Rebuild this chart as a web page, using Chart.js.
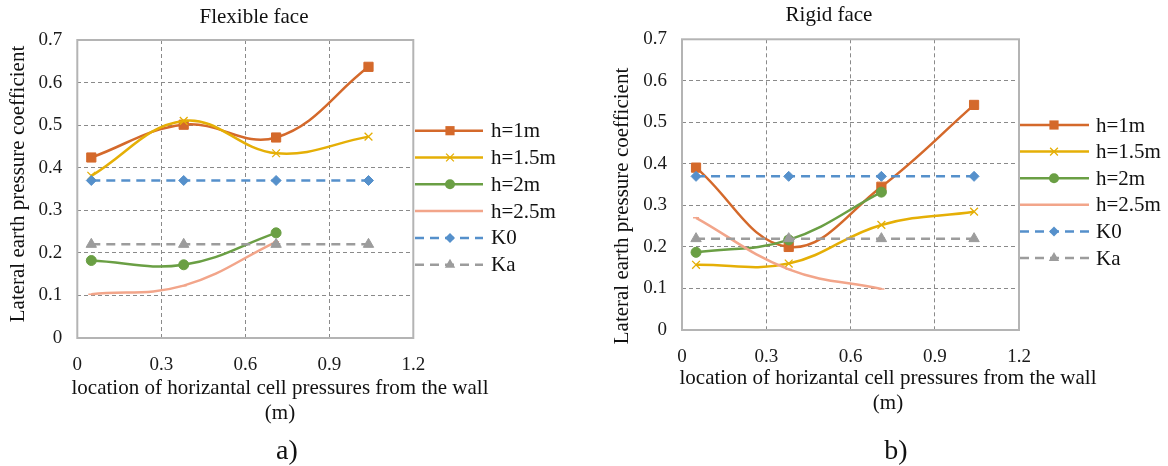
<!DOCTYPE html>
<html>
<head>
<meta charset="utf-8">
<script src="https://cdn.jsdelivr.net/npm/chart.js@4.4.0/dist/chart.umd.min.js"></script>
<style>
  html, body { margin: 0; padding: 0; background: #fff; }
  #wrap { position: relative; width: 1168px; height: 466px; }
  .box { position: absolute; top: 0; height: 466px; }
</style>
</head>
<body>
<div id="wrap">
  <div class="box" style="left:0;width:580px"><canvas id="flexChart" width="580" height="466"></canvas></div>
  <div class="box" style="left:580px;width:588px"><canvas id="rigidChart" width="588" height="466"></canvas></div>
</div>
<script>
// cell positions (m) and tick values
const cellX = [0.05, 0.38, 0.71, 1.04];
const xTicks = [0, 0.3, 0.6, 0.9, 1.2];
const yTicks = [0, 0.1, 0.2, 0.3, 0.4, 0.5, 0.6, 0.7];
const seriesNames = ['h=1m', 'h=1.5m', 'h=2m', 'h=2.5m', 'K0', 'Ka'];

// a) flexible face
const flexH1 = [0.424, 0.501, 0.471, 0.637];
const flexH15 = [0.381, 0.510, 0.434, 0.473];
const flexH2 = [0.182, 0.172, 0.247];
const flexH25 = [0.103, 0.123, 0.226];
const flexK0 = [0.37, 0.37, 0.37, 0.37];
const flexKa = [0.22, 0.22, 0.22, 0.22];

// b) rigid face
const rigidH1 = [0.391, 0.200, 0.345, 0.542];
const rigidH15 = [0.157, 0.160, 0.253, 0.285];
const rigidH2 = [0.187, 0.217, 0.332];
const rigidH25 = [0.270, 0.146, 0.099];
const rigidK0 = [0.37, 0.37, 0.37, 0.37];
const rigidKa = [0.22, 0.22, 0.22, 0.22];

const yTitle = 'Lateral earth pressure coefficient';
const xTitle = ['location of horizantal cell pressures from the wall', '(m)'];

Chart.defaults.font.family = "'Liberation Serif', 'Times New Roman', serif";
Chart.defaults.color = '#1a1a1a';

const styles = [
  { color: '#D4692B', point: 'rect', r: 6.5, pw: 1, dash: [] },
  { color: '#E5AF06', point: 'crossRot', r: 5.5, pw: 1.3, dash: [] },
  { color: '#6A9F44', point: 'circle', r: 5, pw: 1, dash: [] },
  { color: '#F2A58A', point: 'line', r: 3, pw: 1.5, dash: [] },
  { color: '#5590CB', point: 'rectRot', r: 5, pw: 1, dash: [9, 6] },
  { color: '#9C9C9C', point: 'triangle', r: 6, pw: 1, dash: [9, 6] }
];

function toPoints(vals) {
  return vals.map((v, i) => ({ x: cellX[i], y: v }));
}

function makeDatasets(series) {
  return series.map((vals, i) => {
    const s = styles[i];
    return {
      label: seriesNames[i],
      data: toPoints(vals),
      showLine: true,
      borderColor: s.color,
      backgroundColor: s.color,
      pointBackgroundColor: s.color,
      pointBorderColor: s.color,
      borderWidth: 2.5,
      borderDash: s.dash,
      pointStyle: s.point,
      pointRadius: s.r,
      pointBorderWidth: s.pw,
      tension: s.dash.length ? 0 : 0.4,
      order: 6 - i
    };
  });
}

function drawMarker(ctx, style, x, y, r, color, lw) {
  ctx.save();
  ctx.fillStyle = color;
  ctx.strokeStyle = color;
  ctx.lineWidth = lw;
  ctx.beginPath();
  if (style === 'rect') {
    const h = Math.SQRT1_2 * r;
    ctx.rect(x - h, y - h, 2 * h, 2 * h);
    ctx.fill();
  } else if (style === 'circle') {
    ctx.arc(x, y, r, 0, Math.PI * 2);
    ctx.fill();
  } else if (style === 'crossRot') {
    const h = Math.SQRT1_2 * r;
    ctx.moveTo(x - h, y - h); ctx.lineTo(x + h, y + h);
    ctx.moveTo(x - h, y + h); ctx.lineTo(x + h, y - h);
    ctx.stroke();
  } else if (style === 'line') {
    ctx.moveTo(x - r, y); ctx.lineTo(x + r, y);
    ctx.stroke();
  } else if (style === 'rectRot') {
    ctx.moveTo(x, y - r); ctx.lineTo(x + r, y); ctx.lineTo(x, y + r); ctx.lineTo(x - r, y);
    ctx.closePath();
    ctx.fill();
  } else if (style === 'triangle') {
    ctx.moveTo(x, y - r); ctx.lineTo(x + 0.866 * r, y + 0.5 * r); ctx.lineTo(x - 0.866 * r, y + 0.5 * r);
    ctx.closePath();
    ctx.fill();
  }
  ctx.restore();
}

const decoPlugin = {
  id: 'deco',
  beforeDatasetsDraw(chart) {
    const { ctx, chartArea: a } = chart;
    ctx.save();
    ctx.strokeStyle = '#B4B4B4';
    ctx.lineWidth = 2;
    ctx.strokeRect(a.left, a.top, a.right - a.left, a.bottom - a.top);
    ctx.restore();
  },
  afterDraw(chart, args, o) {
    const ctx = chart.ctx;
    ctx.save();
    ctx.fillStyle = '#111';
    ctx.textAlign = 'center';
    ctx.textBaseline = 'middle';
    ctx.font = "21px 'Liberation Serif'";
    ctx.fillText(o.title, o.titleX, o.titleY);
    ctx.fillText(xTitle[0], o.xTitleX, o.xTitleY);
    ctx.fillText(xTitle[1], o.xTitleX, o.xTitleY + 25);
    ctx.save();
    ctx.translate(o.yTitleX, o.yTitleY);
    ctx.rotate(-Math.PI / 2);
    ctx.fillText(yTitle, 0, 0);
    ctx.restore();
    ctx.font = "28px 'Liberation Serif'";
    ctx.fillText(o.tag, o.tagX, o.tagY);

    // legend: line + marker + label, like the spreadsheet one
    ctx.font = "21px 'Liberation Serif'";
    ctx.textAlign = 'left';
    chart.data.datasets.forEach((ds, i) => {
      const y = o.legY + i * o.legDy;
      ctx.save();
      ctx.strokeStyle = ds.borderColor;
      ctx.lineWidth = ds.borderWidth;
      ctx.setLineDash(ds.borderDash || []);
      ctx.beginPath();
      ctx.moveTo(o.legX0, y);
      ctx.lineTo(o.legX1, y);
      ctx.stroke();
      ctx.setLineDash([]);
      drawMarker(ctx, ds.pointStyle, o.legMX, y, ds.pointRadius, ds.borderColor, ds.pointBorderWidth);
      ctx.restore();
      ctx.fillText(ds.label, o.legTX, y + 1);
    });
    ctx.restore();
  }
};

function makeChart(id, series, box, deco) {
  const edge = c => (c.index === 0 || c.index === c.scale.ticks.length - 1) ? 'rgba(0,0,0,0)' : '#8a8a8a';
  return new Chart(document.getElementById(id), {
    type: 'scatter',
    data: { datasets: makeDatasets(series) },
    options: {
      responsive: false,
      animation: false,
      layout: { padding: { left: 0, top: box.top, right: box.w - box.right, bottom: 0 } },
      plugins: { legend: { display: false }, tooltip: { enabled: false }, deco: deco },
      scales: {
        x: {
          type: 'linear', min: 0, max: 1.2,
          afterBuildTicks: s => { s.ticks = xTicks.map(v => ({ value: v })); },
          afterFit: s => { s.height = box.h - box.bottom; },
          ticks: { padding: 16, font: { size: 19 }, maxRotation: 0, autoSkip: false,
                   callback: v => String(+v.toFixed(1)) },
          grid: { drawTicks: false, color: edge, lineWidth: 1 },
          border: { display: false, dash: [4, 3] }
        },
        y: {
          min: 0, max: 0.7,
          afterBuildTicks: s => { s.ticks = yTicks.map(v => ({ value: v })); },
          afterFit: s => { s.width = box.left; },
          ticks: { padding: 15, font: { size: 19 }, callback: v => String(+v.toFixed(1)) },
          grid: { drawTicks: false, color: edge, lineWidth: 1 },
          border: { display: false, dash: [4, 3] }
        }
      }
    },
    plugins: [decoPlugin]
  });
}

makeChart('flexChart',
  [flexH1, flexH15, flexH2, flexH25, flexK0, flexKa],
  { w: 580, h: 466, left: 77.3, right: 413.3, top: 40, bottom: 338 },
  { title: 'Flexible face', titleX: 254, titleY: 17,
    xTitleX: 280, xTitleY: 388, yTitleX: 18, yTitleY: 184,
    tag: 'a)', tagX: 287, tagY: 452,
    legX0: 415, legX1: 483, legMX: 450, legTX: 491, legY: 130.7, legDy: 26.8 });

makeChart('rigidChart',
  [rigidH1, rigidH15, rigidH2, rigidH25, rigidK0, rigidKa],
  { w: 588, h: 466, left: 102, right: 439, top: 39.3, bottom: 330 },
  { title: 'Rigid face', titleX: 249, titleY: 15,
    xTitleX: 308, xTitleY: 378, yTitleX: 42, yTitleY: 206,
    tag: 'b)', tagX: 316, tagY: 452,
    legX0: 440, legX1: 509, legMX: 474, legTX: 516, legY: 125, legDy: 26.6 });
</script>
</body>
</html>
